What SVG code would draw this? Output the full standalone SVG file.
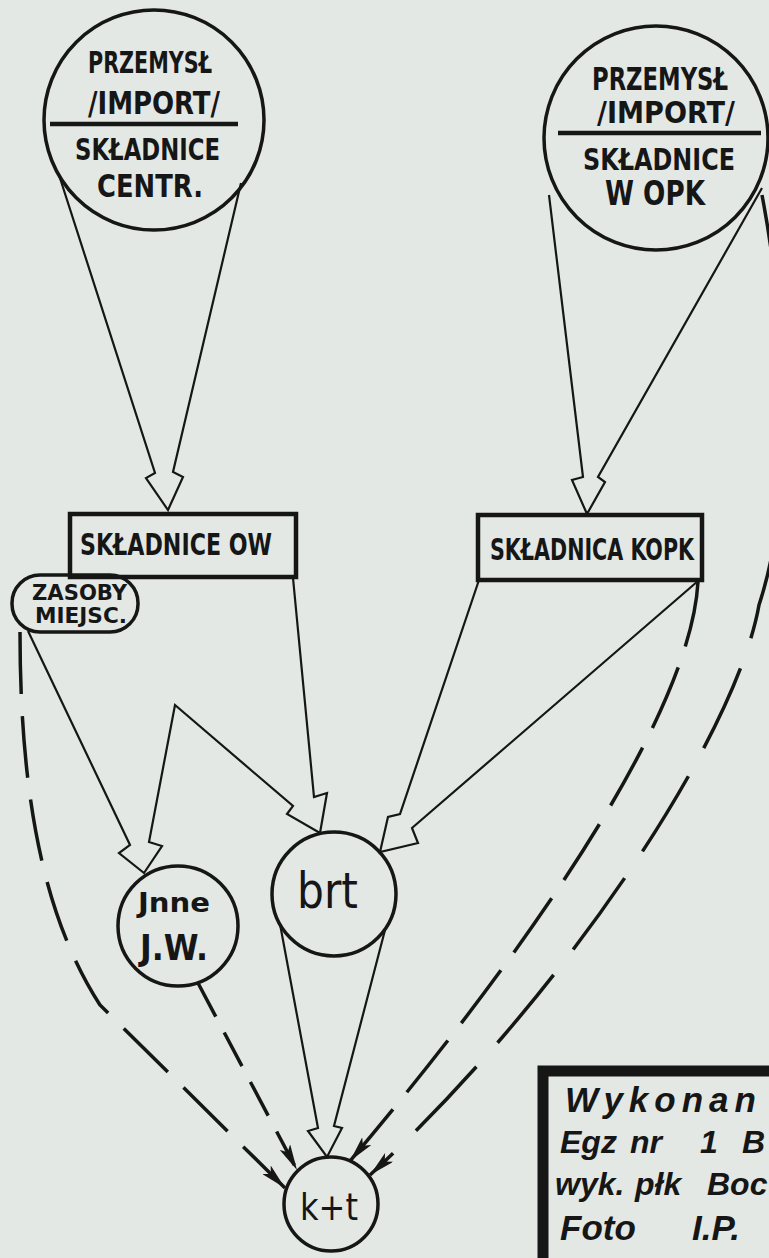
<svg xmlns="http://www.w3.org/2000/svg" width="769" height="1258" viewBox="0 0 769 1258">
<defs>
<style>
.bg{fill:#e3e8e4}
.node{fill:none;stroke:#161616;stroke-width:3.5}
.box{fill:none;stroke:#161616;stroke-width:4.5}
.thin{fill:none;stroke:#161616;stroke-width:2.2;stroke-linejoin:miter}
.dash{fill:none;stroke:#161616;stroke-width:3.5}
.cap{font-family:"Liberation Sans Narrow","DejaVu Sans Condensed","DejaVu Sans",sans-serif;font-weight:bold;fill:#161616}
.hand{font-family:"DejaVu Sans","Liberation Sans",sans-serif;fill:#161616}
.stamp{font-family:"Liberation Sans","DejaVu Sans",sans-serif;font-weight:bold;font-style:italic;fill:#161616}
</style>
<marker id="ah" viewBox="0 0 26 12" refX="26" refY="6" markerWidth="26" markerHeight="12" markerUnits="userSpaceOnUse" orient="auto">
<path d="M0,0 L26,6 L0,12 L6,6 z" fill="#161616"/>
</marker>
</defs>
<rect class="bg" x="0" y="0" width="769" height="1258"/>

<g id="connectors">
<path class="thin" d="M59,175 L155,473 L146,478 L168,510 L183,477 L173,472 L241,183"/>
<path class="thin" d="M549,195 L583,477 L572,480 L587,514 L605,482 L598,477 L762,188"/>
<path class="thin" d="M28,631 L130,845 L119,853 L144,873 L162,846 L149,842 L175,705 L293,806 L287,814 L320,833 L327,793 L314,797 L293,578"/>
<path class="thin" d="M479,580 L400,814 L388,817 L380,852 L418,843 L412,828 L698,581"/>
<path class="thin" d="M280,924 L318,1128 L308,1131 L327,1157 L342,1128 L334,1126 L385,930"/>
<path class="dash" stroke-dasharray="62 22" marker-end="url(#ah)" d="M20,632 C20,800 45,920 100,1005 L285,1188"/>
<path class="dash" stroke-dasharray="38 18" marker-end="url(#ah)" d="M198,983 L297,1170"/>
<path class="dash" stroke-dasharray="66 22" marker-end="url(#ah)" d="M698,582 C690,720 520,960 350,1161"/>
<path class="dash" stroke-dasharray="88 32" marker-end="url(#ah)" d="M762,195 C782,300 800,480 759,605 C735,740 560,1000 370,1175"/>
</g>

<g id="node-przemysl-centr">
<circle class="node" cx="154" cy="120" r="110"/>
<line x1="50" y1="124" x2="238" y2="124" stroke="#161616" stroke-width="4.5"/>
<text class="cap" x="88" y="73" font-size="31" textLength="124" lengthAdjust="spacingAndGlyphs">PRZEMYSŁ</text>
<text class="cap" x="88" y="114" font-size="32" textLength="132" lengthAdjust="spacingAndGlyphs">/IMPORT/</text>
<text class="cap" x="75" y="160" font-size="31" textLength="145" lengthAdjust="spacingAndGlyphs">SKŁADNICE</text>
<text class="cap" x="97" y="197" font-size="32" textLength="106" lengthAdjust="spacingAndGlyphs">CENTR.</text>
</g>

<g id="node-przemysl-opk">
<circle class="node" cx="656" cy="138" r="112"/>
<line x1="558" y1="133" x2="761" y2="133" stroke="#161616" stroke-width="4.5"/>
<text class="cap" x="592" y="90" font-size="32" textLength="136" lengthAdjust="spacingAndGlyphs">PRZEMYSŁ</text>
<text class="cap" x="597" y="123" font-size="30" textLength="138" lengthAdjust="spacingAndGlyphs">/IMPORT/</text>
<text class="cap" x="583" y="170" font-size="31" textLength="152" lengthAdjust="spacingAndGlyphs">SKŁADNICE</text>
<text class="cap" x="605" y="205" font-size="33" textLength="100" lengthAdjust="spacingAndGlyphs">W OPK</text>
</g>

<g id="node-skladnice-ow">
<rect class="box" x="70" y="514" width="226" height="63"/>
<text class="cap" x="80" y="555" font-size="30" textLength="192" lengthAdjust="spacingAndGlyphs">SKŁADNICE OW</text>
</g>

<g id="node-zasoby">
<rect class="node" x="12" y="575" width="126" height="57" rx="28" ry="28" fill="#e3e8e4"/>
<text class="cap" x="32" y="600" font-size="21" textLength="95" lengthAdjust="spacingAndGlyphs">ZASOBY</text>
<text class="cap" x="35" y="623" font-size="21" textLength="92" lengthAdjust="spacingAndGlyphs">MIEJSC.</text>
</g>

<g id="node-skladnica-kopk">
<rect class="box" x="478" y="515" width="224" height="65"/>
<text class="cap" x="490" y="560" font-size="30" textLength="204" lengthAdjust="spacingAndGlyphs">SKŁADNICA KOPK</text>
</g>

<g id="node-jnne">
<circle class="node" cx="178" cy="926" r="60"/>
<text class="hand" x="138" y="912" font-size="26" font-weight="bold" textLength="72" lengthAdjust="spacingAndGlyphs">Jnne</text>
<text class="hand" x="140" y="960" font-size="36" font-weight="bold" textLength="68" lengthAdjust="spacingAndGlyphs">J.W.</text>
</g>

<g id="node-brt">
<circle class="node" cx="334" cy="894" r="62"/>
<text class="hand" x="297" y="908" font-size="50" textLength="61" lengthAdjust="spacingAndGlyphs">brt</text>
</g>

<g id="node-kt">
<circle class="node" cx="331" cy="1204" r="47"/>
<text class="hand" x="300" y="1220" font-size="38" textLength="58" lengthAdjust="spacingAndGlyphs">k+t</text>
</g>

<g id="stamp">
<rect x="543" y="1071" width="300" height="300" fill="none" stroke="#161616" stroke-width="11"/>
<text class="stamp" x="565" y="1112" font-size="35" letter-spacing="6">Wykonan</text>
<text class="stamp" font-size="32"><tspan x="560" y="1153">Egz</tspan><tspan x="630" y="1153">nr</tspan><tspan x="700" y="1153">1</tspan><tspan x="742" y="1153">B</tspan></text>
<text class="stamp" font-size="32"><tspan x="555" y="1195">wyk.</tspan><tspan x="635" y="1195">płk</tspan><tspan x="707" y="1195">Boc</tspan></text>
<text class="stamp" font-size="35"><tspan x="560" y="1240">Foto</tspan><tspan x="692" y="1240">I.P.</tspan></text>
</g>
</svg>
